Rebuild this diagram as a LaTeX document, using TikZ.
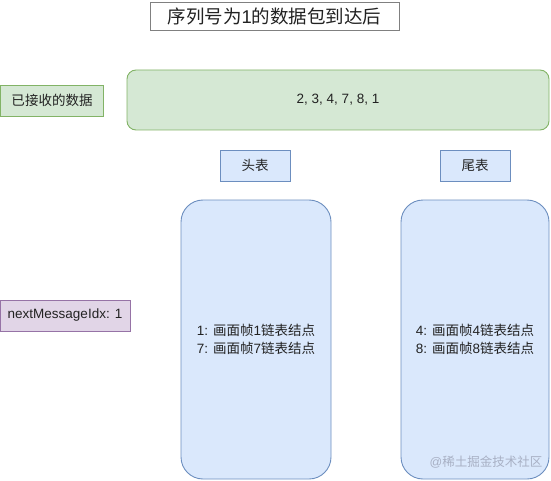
\documentclass[tikz,border=0pt]{standalone}
\usepackage{fontspec}
\setmainfont{Liberation Sans}
\newfontfamily\cjk{Noto Sans CJK SC}
\definecolor{gfill}{HTML}{D5E8D4}
\definecolor{gline}{HTML}{82B366}
\definecolor{bfill}{HTML}{DAE8FC}
\definecolor{bline}{HTML}{6C8EBF}
\definecolor{pfill}{HTML}{E1D5E7}
\definecolor{pline}{HTML}{9673A6}
\definecolor{tline}{HTML}{808080}
\definecolor{txt}{HTML}{222222}
\definecolor{wm}{HTML}{A8B0C4}
\begin{document}
\begin{tikzpicture}[x=1pt,y=-1pt,
  base/.style={draw, line width=0.9pt, inner sep=0pt, text=txt, font=\fontsize{13.5}{18}\selectfont, align=center},
  greenbox/.style={base, fill=gfill, draw=gline},
  bluebox/.style={base, fill=bfill, draw=bline},
  purplebox/.style={base, fill=pfill, draw=pline},
  titlebox/.style={base, fill=white, draw=tline, font=\fontsize{18.5}{22}\selectfont}
]
\useasboundingbox (0,0) rectangle (551,481);
\node[titlebox, minimum width=249pt, minimum height=28pt] (title) at (274.5,16) {{\cjk 序列号为}1{\cjk 的数据包到达后}};
\node[greenbox, minimum width=103pt, minimum height=31pt] (recv) at (52,100.5) {{\cjk 已接收的数据}};
\node[greenbox, rounded corners=9pt, minimum width=422pt, minimum height=60pt] (data) at (338,100) {2, 3, 4, 7, 8, 1};
\node[bluebox, minimum width=70pt, minimum height=31pt] (head) at (255,165.5) {{\cjk 头表}};
\node[bluebox, minimum width=70pt, minimum height=31pt] (tail) at (475,165.5) {{\cjk 尾表}};
\node[bluebox, rounded corners=22pt, minimum width=150pt, minimum height=279pt] (hlist) at (256,339.5) {1: {\cjk 画面帧}1{\cjk 链表结点}\\7: {\cjk 画面帧}7{\cjk 链表结点}};
\node[bluebox, rounded corners=22pt, minimum width=148pt, minimum height=279pt] (tlist) at (475,339.5) {4: {\cjk 画面帧}4{\cjk 链表结点}\\8: {\cjk 画面帧}8{\cjk 链表结点}};
\node[purplebox, minimum width=130pt, minimum height=31pt] (idx) at (65,315.5) {nextMessageIdx: 1};
\node[text=wm, font=\fontsize{12.5}{14}\selectfont, inner sep=0pt] (mark) at (486,462) {@{\cjk 稀土掘金技术社区}};
\end{tikzpicture}
\end{document}
